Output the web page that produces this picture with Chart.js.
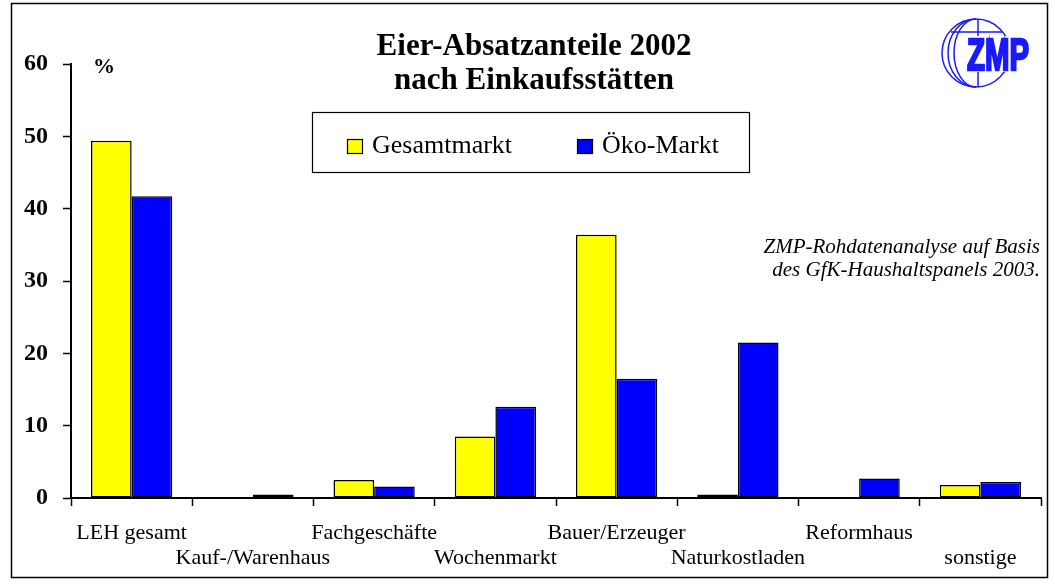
<!DOCTYPE html>
<html>
<head>
<meta charset="utf-8">
<script src="https://cdn.jsdelivr.net/npm/chart.js@4/dist/chart.umd.min.js"></script>
<style>
  html, body { margin: 0; padding: 0; background: #fff; }
  #wrap { width: 1055px; height: 585px; }
</style>
</head>
<body>
<div id="wrap"><canvas id="chart" width="1055" height="585"></canvas></div>
<script>
// ==========================================
// DATA
// ==========================================
const categories = ['LEH gesamt', 'Kauf-/Warenhaus', 'Fachgeschäfte', 'Wochenmarkt',
    'Bauer/Erzeuger', 'Naturkostladen', 'Reformhaus', 'sonstige'];
const gesamtmarkt = [49.4, 0, 2.5, 8.5, 36.4, 0.5, 0, 1.8];
const oekoMarkt = [41.7, 0.5, 1.6, 12.6, 16.5, 21.5, 2.7, 2.2];
const seriesNames = ['Gesamtmarkt', 'Öko-Markt'];
const yTicks = [0, 10, 20, 30, 40, 50, 60];

const titleLines = ['Eier-Absatzanteile 2002', 'nach Einkaufsstätten'];
const noteLines = ['ZMP-Rohdatenanalyse auf Basis', 'des GfK-Haushaltspanels 2003.'];

const SERIF = '"Liberation Serif", "Times New Roman", serif';

// ==========================================
// DECORATION PLUGIN (frame, title, legend, note, logo)
// ==========================================
const decorations = {
    id: 'decorations',
    afterDraw(chart) {
        const ctx = chart.ctx;
        ctx.save();

        // outer frame
        ctx.strokeStyle = '#000';
        ctx.lineWidth = 1.5;
        ctx.strokeRect(11.5, 3.5, 1036, 574);

        // title
        ctx.fillStyle = '#000';
        ctx.textAlign = 'center';
        ctx.textBaseline = 'alphabetic';
        ctx.font = 'bold 31px ' + SERIF;
        ctx.fillText(titleLines[0], 534, 55);
        ctx.fillText(titleLines[1], 534, 89);

        // percent sign
        ctx.font = 'bold 22px ' + SERIF;
        ctx.fillText('%', 104, 73);

        // legend box
        ctx.lineWidth = 1.2;
        ctx.strokeRect(312.5, 112.5, 437, 60);
        const items = [
            { x: 347, textX: 372 },
            { x: 577, textX: 602 }
        ];
        ctx.font = '26px ' + SERIF;
        ctx.textAlign = 'left';
        ctx.textBaseline = 'middle';
        chart.data.datasets.forEach((ds, i) => {
            ctx.fillStyle = ds.backgroundColor;
            ctx.fillRect(items[i].x, 139, 15, 14);
            ctx.strokeStyle = '#000';
            ctx.lineWidth = 1.2;
            ctx.strokeRect(items[i].x + 0.5, 139.5, 15, 14);
            ctx.fillStyle = '#000';
            ctx.fillText(ds.label, items[i].textX, 146);
        });

        // note
        ctx.font = 'italic 21px ' + SERIF;
        ctx.textAlign = 'right';
        ctx.textBaseline = 'alphabetic';
        ctx.fillText(noteLines[0], 1040, 253);
        ctx.fillText(noteLines[1], 1040, 276);

        // logo: globe lines + ZMP
        ctx.strokeStyle = '#1a1aff';
        ctx.lineWidth = 1.5;
        const cx = 976, cy = 53, r = 34;
        ctx.beginPath();
        ctx.arc(cx, cy, r, 0, Math.PI * 2);
        ctx.stroke();
        ctx.beginPath();
        ctx.ellipse(cx, cy, r - 6, r, 0, Math.PI * 0.5, Math.PI * 1.5);
        ctx.stroke();
        ctx.beginPath();
        ctx.ellipse(cx, cy, r - 12, r, 0, Math.PI * 0.5, Math.PI * 1.5);
        ctx.stroke();
        ctx.beginPath();
        ctx.moveTo(978, cy - r); ctx.lineTo(978, cy + r);
        ctx.moveTo(951, 32); ctx.lineTo(1002, 32);
        ctx.stroke();

        ctx.font = 'bold 44px "Liberation Sans", sans-serif';
        const w = ctx.measureText('ZMP').width;
        // white backing so the lines do not cross the letters
        ctx.fillStyle = '#fff';
        ctx.fillRect(963, 36, 70, 36);
        ctx.fillStyle = '#1a1aff';
        ctx.strokeStyle = '#1a1aff';
        ctx.lineWidth = 2.5;
        ctx.lineJoin = 'miter';
        ctx.textAlign = 'left';
        ctx.translate(967, 70);
        ctx.scale(62 / w, 1);
        ctx.fillText('ZMP', 0, 0);
        ctx.strokeText('ZMP', 0, 0);

        ctx.restore();
    }
};

// ==========================================
// CHART
// ==========================================
const ctx = document.getElementById('chart');
new Chart(ctx, {
    type: 'bar',
    data: {
        labels: categories,
        datasets: [
            {
                label: seriesNames[0],
                data: gesamtmarkt,
                backgroundColor: '#ffff00',
                borderColor: '#000',
                borderWidth: 1.5,
                borderSkipped: false
            },
            {
                label: seriesNames[1],
                data: oekoMarkt,
                backgroundColor: '#0000ff',
                borderColor: '#000',
                borderWidth: 1.5,
                borderSkipped: false
            }
        ]
    },
    options: {
        responsive: false,
        animation: false,
        layout: {
            padding: { left: 11, right: 14, top: 64, bottom: 8 }
        },
        datasets: {
            bar: {
                categoryPercentage: 0.67,
                barPercentage: 1.0
            }
        },
        scales: {
            x: {
                grid: {
                    display: true,
                    drawOnChartArea: false,
                    drawTicks: true,
                    tickLength: 8,
                    tickWidth: 1.5,
                    tickColor: '#000',
                    offset: true
                },
                border: { display: true, color: '#000', width: 2 },
                ticks: {
                    autoSkip: false,
                    maxRotation: 0,
                    minRotation: 0,
                    padding: 15,
                    color: '#000',
                    font: { family: SERIF, size: 22, lineHeight: 1.14 },
                    callback: function(value, index) {
                        const name = categories[index];
                        return index % 2 === 1 ? ['', name] : name;
                    }
                },
                afterFit: function(scale) { scale.height = 79; }
            },
            y: {
                min: 0,
                max: 60,
                afterBuildTicks: function(scale) {
                    scale.ticks = yTicks.map(v => ({ value: v }));
                },
                grid: {
                    display: true,
                    drawOnChartArea: false,
                    drawTicks: true,
                    tickLength: 8,
                    tickWidth: 1.5,
                    tickColor: '#000'
                },
                border: { display: true, color: '#000', width: 2 },
                ticks: {
                    padding: 15,
                    color: '#000',
                    font: { family: SERIF, size: 24, weight: 'bold' }
                },
                afterFit: function(scale) { scale.width = 60; }
            }
        },
        plugins: {
            legend: { display: false },
            title: { display: false },
            tooltip: { enabled: false }
        }
    },
    plugins: [decorations]
});
</script>
</body>
</html>
